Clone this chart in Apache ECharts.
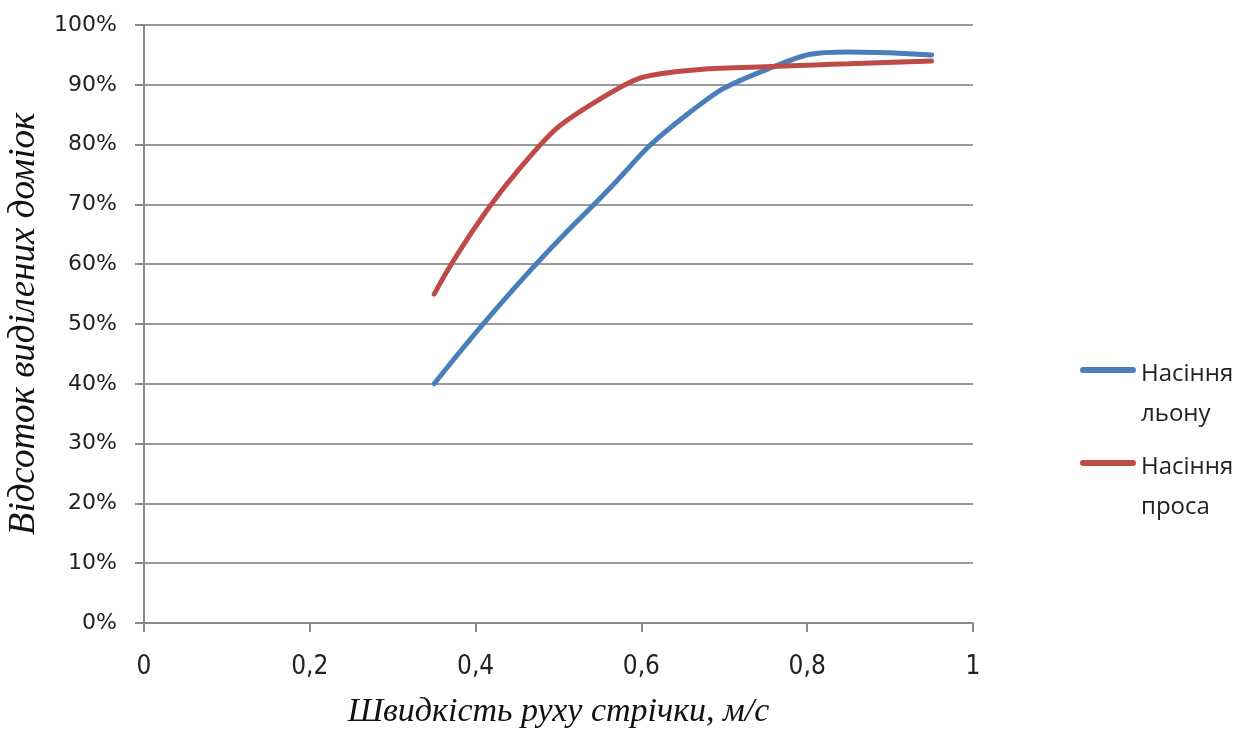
<!DOCTYPE html>
<html>
<head>
	<meta charset="utf-8">
	<title>Відсоток виділених доміок</title>
	<script type="text/javascript" src="https://cdn.jsdelivr.net/npm/echarts@6.0.0/dist/echarts.min.js"></script>
</head>
<body style="margin:0; background:#fff;">
	<div id="chart" style="width:1255px;height:732px;"></div>
	<script type="text/javascript">
		// швидкість, м/с
		const speeds = [0.35, 0.45, 0.55, 0.65, 0.75, 0.85, 0.95];
		// відсоток виділених доміок, %
		const flax = [40, 56.5, 71, 84.5, 92.5, 95.5, 95];
		const millet = [55, 75.5, 87.6, 92.3, 93, 93.5, 94];
		const seriesNames = ['Насіння\nльону', 'Насіння\nпроса'];
		const xTicks = [0, 0.2, 0.4, 0.6, 0.8, 1];

		const pairs = (ys) => speeds.map((x, i) => [x, ys[i]]);

		// legend bar sits on the first text line
		const legendIcon = 'path://M3,26H53A3,3 0 0 1 53,32H3A3,3 0 0 1 3,26Z M0,79.9H0.1V80H0Z';

		const chart = echarts.init(document.getElementById('chart'));
		chart.setOption({
			animation: false,
			grid: {left: 144, right: 282, top: 25, bottom: 109, outerBoundsMode: 'none'},
			legend: {
				orient: 'vertical',
				left: 1075,
				top: 349,
				itemWidth: 56,
				itemHeight: 80,
				itemGap: 13,
				icon: legendIcon,
				itemStyle: {borderWidth: 0},
				textStyle: {
					fontFamily: 'Open Sans',
					fontSize: 24,
					color: '#222',
					lineHeight: 40
				},
				data: seriesNames
			},
			xAxis: {
				type: 'value',
				min: xTicks[0],
				max: xTicks[xTicks.length - 1],
				interval: 0.2,
				name: 'Швидкість руху стрічки, м/с',
				nameLocation: 'middle',
				nameGap: 72,
				nameTextStyle: {fontFamily: 'Liberation Serif', fontStyle: 'italic', fontSize: 34, color: '#111'},
				axisLine: {lineStyle: {color: '#8a8a8a', width: 2}},
				axisTick: {length: 9, lineStyle: {color: '#8a8a8a', width: 2}},
				axisLabel: {
					margin: 31,
					fontFamily: 'DejaVu Sans Condensed',
					fontSize: 26,
					color: '#222',
					formatter: v => String(+v.toFixed(1)).replace('.', ',')
				},
				splitLine: {show: false}
			},
			yAxis: {
				type: 'value',
				min: 0,
				max: 100,
				interval: 10,
				name: 'Відсоток виділених доміок',
				nameLocation: 'middle',
				nameRotate: 90,
				nameGap: 90,
				nameTextStyle: {fontFamily: 'Liberation Serif', fontStyle: 'italic', fontSize: 37, color: '#111'},
				axisLine: {show: true, lineStyle: {color: '#8a8a8a', width: 2}},
				axisTick: {show: true, length: 9, lineStyle: {color: '#8a8a8a', width: 2}},
				axisLabel: {margin: 27, fontFamily: 'DejaVu Sans', fontSize: 22, color: '#222', formatter: v => v + '%'},
				splitLine: {lineStyle: {color: '#999', width: 2}}
			},
			series: [
				{
					name: seriesNames[0],
					type: 'line',
					smooth: true,
					showSymbol: false,
					color: '#4a7ebb',
					lineStyle: {width: 5, cap: 'round'},
					data: pairs(flax)
				},
				{
					name: seriesNames[1],
					type: 'line',
					smooth: true,
					showSymbol: false,
					color: '#be4b48',
					lineStyle: {width: 5, cap: 'round'},
					data: pairs(millet)
				}
			]
		});
	</script>
</body>
</html>
